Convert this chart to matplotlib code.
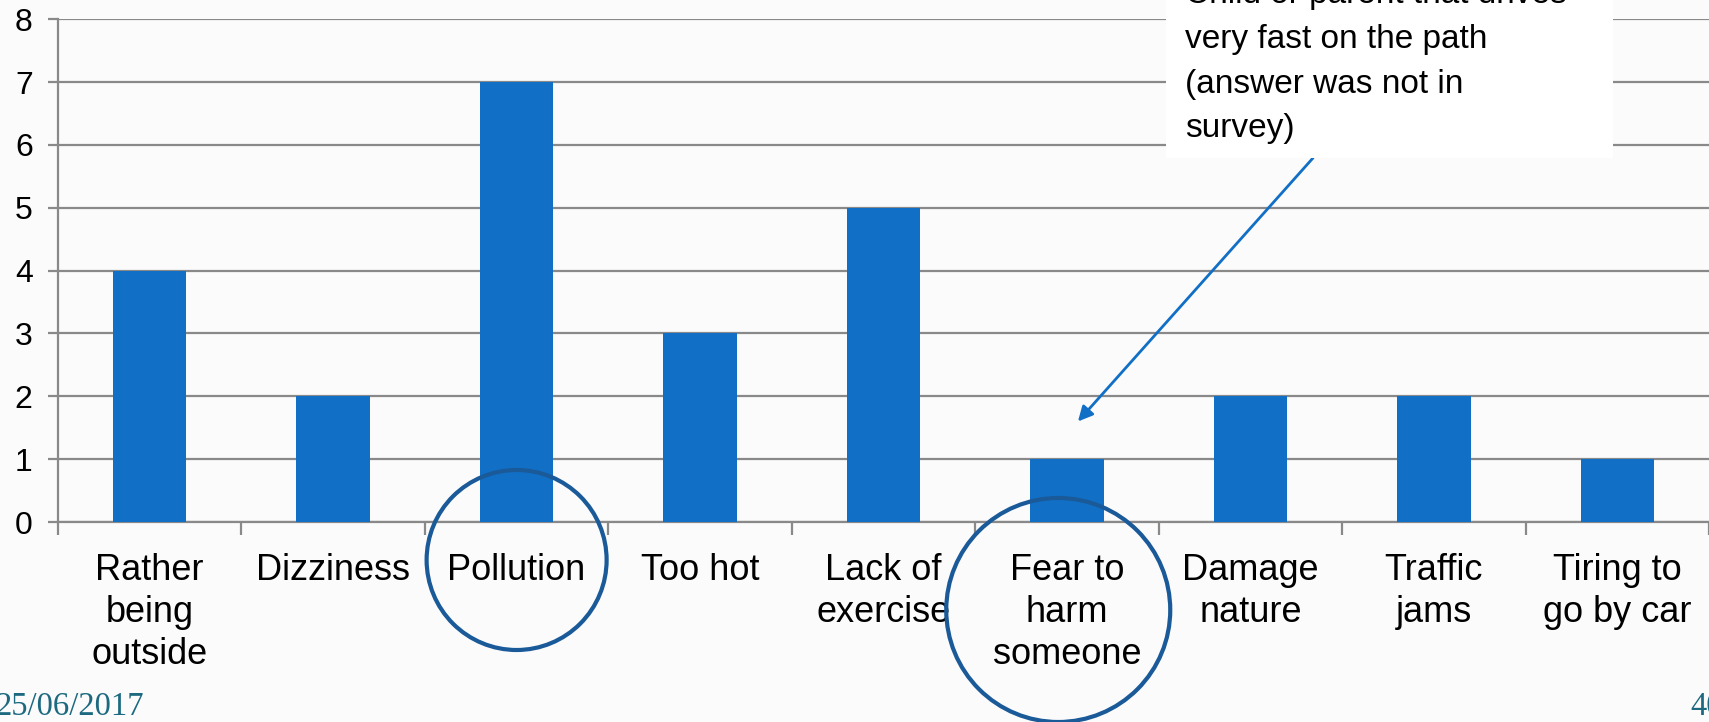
import matplotlib
matplotlib.use("Agg")
import matplotlib.pyplot as plt
from matplotlib.patches import Circle, Rectangle
from matplotlib.transforms import ScaledTranslation

categories = ["Rather\nbeing\noutside", "Dizziness", "Pollution", "Too hot",
              "Lack of\nexercise", "Fear to\nharm\nsomeone", "Damage\nnature",
              "Traffic\njams", "Tiring to\ngo by car"]
values = [4, 2, 7, 3, 5, 1, 2, 2, 1]
y_ticks = [0, 1, 2, 3, 4, 5, 6, 7, 8]
note_lines = ["Child or parent that drives", "very fast on the path",
              "(answer was not in", "survey)"]
date_text = "25/06/2017"
page_text = "40"

W, H = 1709, 722
fig = plt.figure(figsize=(W / 100, H / 100), dpi=100)
fig.patch.set_facecolor("#fbfbfb")
plt.rcParams["font.family"] = ["Liberation Sans", "DejaVu Sans"]

ax = fig.add_axes([58 / W, (H - 522) / H, (W - 58) / W, (522 - 19.3) / H])
ax.set_facecolor("none")
grid_c = "#898989"
x = list(range(len(categories)))
ax.bar(x, values, width=0.4, color="#116fc6", zorder=3)
ax.set_xlim(-0.5, len(categories) - 0.5)
ax.set_ylim(0, 8)
ax.set_yticks(y_ticks)
ax.set_yticklabels([str(v) for v in y_ticks], fontsize=23)
ax.yaxis.grid(True, color=grid_c, linewidth=1.6, zorder=0)
ax.set_axisbelow(True)
for s in ["top", "right"]:
    ax.spines[s].set_visible(False)
for s in ["left", "bottom"]:
    ax.spines[s].set_color(grid_c)
    ax.spines[s].set_linewidth(1.6)
ax.set_xticks(x)
ax.set_xticklabels(categories, fontsize=26, linespacing=1.27)
ax.set_xticks([i + 0.5 for i in range(-1, len(categories))], minor=True)
ax.tick_params(axis="x", which="major", length=0, pad=22)
ax.tick_params(axis="x", which="minor", length=9, width=1.6, color=grid_c)
ax.tick_params(axis="y", length=7.2, width=1.6, color=grid_c, pad=11)

# circles highlighting categories
circ_c = "#1b5a99"
c1 = Circle((0, -0.38), 0.90, transform=fig.dpi_scale_trans + ScaledTranslation(2, 0, ax.transData),
            fill=False, edgecolor=circ_c, linewidth=3.0, clip_on=False, zorder=5)
c2 = Circle((-0.087, -0.88), 1.12, transform=fig.dpi_scale_trans + ScaledTranslation(5, 0, ax.transData),
            fill=False, edgecolor=circ_c, linewidth=3.0, clip_on=False, zorder=5)
fig.add_artist(c1)
fig.add_artist(c2)

# annotation box
fig.add_artist(Rectangle((1166, H - 158), 1613 - 1166, 200, transform=None,
                         facecolor="white", edgecolor="none", zorder=6))
for i, line in enumerate(note_lines):
    fig.text(1185 / W, (H - 3.5 - i * 44.5) / H, line, fontsize=24, ha="left",
             va="baseline", color="black", zorder=7)

ax.annotate("", xy=(5.06, 1.6), xycoords="data",
            xytext=(1313, H - 158), textcoords="figure pixels",
            arrowprops=dict(arrowstyle="-|>", color="#116fc6", lw=2,
                            mutation_scale=22, shrinkA=0, shrinkB=0),
            zorder=8, annotation_clip=False)

fig.text(-4 / W, (H - 715) / H, date_text, fontsize=23.5, color="#1d6a80",
         family=["Liberation Serif", "DejaVu Serif"], ha="left", va="baseline")
fig.text(1690 / W, (H - 715) / H, page_text, fontsize=23.5, color="#1d6a80",
         family=["Liberation Serif", "DejaVu Serif"], ha="left", va="baseline")

fig.savefig("out.png", dpi=100, facecolor=fig.get_facecolor())
